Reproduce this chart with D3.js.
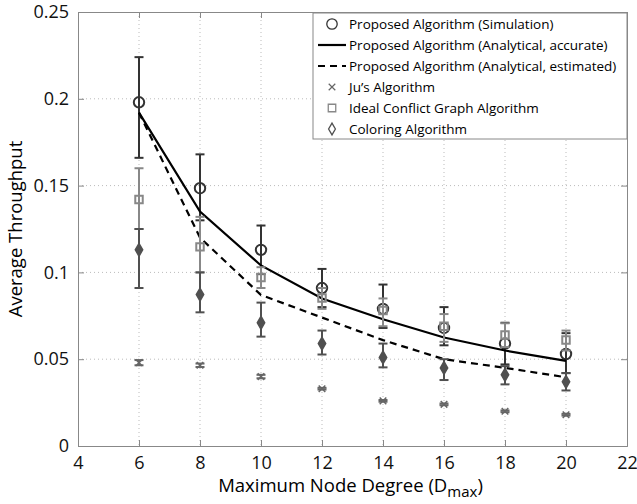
<!DOCTYPE html>
<html>
<head>
<meta charset="utf-8">
<script src="https://cdn.jsdelivr.net/npm/d3@7"></script>
<style>
  body { margin: 0; background: #fff; }
  text { font-family: "Open Sans", "Noto Sans", sans-serif; }
</style>
</head>
<body>
<div class="chart"></div>
<script>
// data
const degrees = [6, 8, 10, 12, 14, 16, 18, 20];

const simMean = [0.198, 0.1485, 0.113, 0.091, 0.079, 0.068, 0.059, 0.053];
const simLo   = [0.166, 0.130, 0.099, 0.080, 0.068, 0.058, 0.047, 0.042];
const simHi   = [0.224, 0.168, 0.127, 0.102, 0.093, 0.080, 0.071, 0.065];

const accurate  = [0.192, 0.135, 0.104, 0.085, 0.073, 0.0625, 0.055, 0.049];
const estimated = [0.192, 0.120, 0.087, 0.074, 0.061, 0.050, 0.045, 0.0396];

const juMean = [0.048, 0.0465, 0.040, 0.033, 0.026, 0.024, 0.020, 0.018];
const juLo   = [0.0465, 0.0455, 0.039, 0.0325, 0.0255, 0.0235, 0.0195, 0.0175];
const juHi   = [0.0495, 0.0475, 0.041, 0.0335, 0.0265, 0.0245, 0.0205, 0.0185];

const idealMean = [0.142, 0.1147, 0.097, 0.0853, 0.078, 0.069, 0.064, 0.061];
const idealLo   = [0.125, 0.100, 0.091, 0.079, 0.069, 0.060, 0.057, 0.055];
const idealHi   = [0.160, 0.132, 0.103, 0.091, 0.085, 0.076, 0.0707, 0.0665];

const colorMean = [0.113, 0.0872, 0.071, 0.059, 0.051, 0.045, 0.041, 0.037];
const colorLo   = [0.091, 0.077, 0.063, 0.0527, 0.0453, 0.038, 0.0355, 0.032];
const colorHi   = [0.125, 0.100, 0.0826, 0.0665, 0.059, 0.050, 0.046, 0.042];

const xTicks = [4, 6, 8, 10, 12, 14, 16, 18, 20, 22];
const yTicks = [0, 0.05, 0.1, 0.15, 0.2, 0.25];

const legendLabels = [
  "Proposed Algorithm (Simulation)",
  "Proposed Algorithm (Analytical, accurate)",
  "Proposed Algorithm (Analytical, estimated)",
  "Ju\u2019s Algorithm",
  "Ideal Conflict Graph Algorithm",
  "Coloring Algorithm"
];

const outerWidth = 637;
const outerHeight = 504;
const margin = {top: 12, left: 78, bottom: 58, right: 10};
const width = outerWidth - margin.left - margin.right;
const height = outerHeight - margin.top - margin.bottom;

const svg = d3.select(".chart")
    .append("svg")
    .attr("width", outerWidth)
    .attr("height", outerHeight)
    .append("g")
    .attr("transform", `translate(${margin.left}, ${margin.top})`);

const xScale = d3.scaleLinear().domain([4, 22]).range([0, width]);
const yScale = d3.scaleLinear().domain([0, 0.25]).range([height, 0]);

// dotted grid
svg.append("g").selectAll("line")
    .data(xTicks.slice(1, -1))
    .join("line")
    .attr("x1", d => xScale(d)).attr("x2", d => xScale(d))
    .attr("y1", 0).attr("y2", height)
    .attr("stroke", "#bbb").attr("stroke-dasharray", "1,3");

svg.append("g").selectAll("line")
    .data(yTicks.slice(1, -1))
    .join("line")
    .attr("y1", d => yScale(d)).attr("y2", d => yScale(d))
    .attr("x1", 0).attr("x2", width)
    .attr("stroke", "#bbb").attr("stroke-dasharray", "1,3");

// axes, ticks pointing inward like matlab
const xAxis = d3.axisBottom(xScale).tickValues(xTicks).tickSize(-6).tickPadding(10);
const yAxis = d3.axisLeft(yScale).tickValues(yTicks).tickSize(-6).tickPadding(9)
    .tickFormat(d => d === 0 ? "0" : String(+d.toFixed(2)));

svg.append("g").attr("transform", `translate(0, ${height})`).call(xAxis);
svg.append("g").call(yAxis);
svg.append("g").call(d3.axisTop(xScale).tickValues(xTicks).tickSize(-6).tickFormat(""));
svg.append("g").attr("transform", `translate(${width}, 0)`)
    .call(d3.axisRight(yScale).tickValues(yTicks).tickSize(-6).tickFormat(""));

svg.selectAll(".domain").attr("stroke", "#888");
svg.selectAll(".tick line").attr("stroke", "#888");
svg.selectAll(".tick text").attr("fill", "#111").style("font-size", "18px");

// axis titles
const xTitle = svg.append("text")
    .attr("x", width / 2 - 2).attr("y", height + 46)
    .attr("text-anchor", "middle")
    .style("font-size", "18.5px");
xTitle.append("tspan").text("Maximum Node Degree (D");
xTitle.append("tspan").attr("dy", 5).style("font-size", "15px").text("max");
xTitle.append("tspan").attr("dy", -5).text(")");

svg.append("text")
    .attr("transform", `translate(-56, ${height / 2}) rotate(-90)`)
    .attr("text-anchor", "middle")
    .style("font-size", "18.5px")
    .text("Average Throughput");

// helpers
function errorBars(mean, lo, hi, color) {
  const g = svg.append("g").attr("stroke", color).attr("stroke-width", 2).attr("fill", "none");
  degrees.forEach((d, i) => {
    const x = xScale(d);
    g.append("line").attr("x1", x).attr("x2", x).attr("y1", yScale(lo[i])).attr("y2", yScale(hi[i]));
    g.append("line").attr("x1", x - 4.5).attr("x2", x + 4.5).attr("y1", yScale(lo[i])).attr("y2", yScale(lo[i]));
    g.append("line").attr("x1", x - 4.5).attr("x2", x + 4.5).attr("y1", yScale(hi[i])).attr("y2", yScale(hi[i]));
  });
  return g;
}

const symbols = {
  circle: d3.symbol().type(d3.symbolCircle).size(85),
  square: d3.symbol().type(d3.symbolSquare).size(56),
  diamond: d3.symbol().type(d3.symbolDiamond).size(40),
  cross: d3.symbol().type(d3.symbolX).size(30)
};

function markers(mean, shape, color) {
  svg.append("g").selectAll("path")
    .data(degrees)
    .join("path")
    .attr("transform", (d, i) => `translate(${xScale(d)}, ${yScale(mean[i])})`)
    .attr("d", symbols[shape])
    .attr("fill", shape === "diamond" ? color : "none")
    .attr("stroke", color)
    .attr("stroke-width", shape === "cross" ? 1.5 : 2);
}

// simulation
errorBars(simMean, simLo, simHi, "#333");
markers(simMean, "circle", "#333");

// analytical curves
const line = d3.line().x((d, i) => xScale(degrees[i])).y(d => yScale(d));
svg.append("path").datum(accurate).attr("d", line)
    .attr("fill", "none").attr("stroke", "#000").attr("stroke-width", 2.2);
svg.append("path").datum(estimated).attr("d", line)
    .attr("fill", "none").attr("stroke", "#000").attr("stroke-width", 2.2)
    .attr("stroke-dasharray", "7,5");

// Ju
errorBars(juMean, juLo, juHi, "#666");
markers(juMean, "cross", "#666");

// ideal conflict graph
errorBars(idealMean, idealLo, idealHi, "#888");
markers(idealMean, "square", "#888");

// coloring
errorBars(colorMean, colorLo, colorHi, "#505050");
markers(colorMean, "diamond", "#505050");

// legend
const lx = xScale(12) - 9, ly = 1, lw = width - (xScale(12) - 9), lh = 126;
const legend = svg.append("g").attr("transform", `translate(${lx}, ${ly})`);
legend.append("rect").attr("width", lw).attr("height", lh)
    .attr("fill", "#fff").attr("stroke", "#888");

const legendStyles = [
  {shape: "circle", color: "#333"},
  {line: "solid"},
  {line: "dashed"},
  {shape: "cross", color: "#666"},
  {shape: "square", color: "#888"},
  {shape: "diamond", color: "#505050"}
];

legendLabels.forEach((lab, i) => {
  const y = 11 + i * 21;
  const s = legendStyles[i];
  if (s.line) {
    legend.append("line").attr("x1", 5).attr("x2", 33).attr("y1", y).attr("y2", y)
      .attr("stroke", "#000").attr("stroke-width", 2.2)
      .attr("stroke-dasharray", s.line === "dashed" ? "7,5" : null);
  } else {
    legend.append("path").attr("transform", `translate(19, ${y})`)
      .attr("d", symbols[s.shape])
      .attr("fill", "none")
      .attr("stroke", s.color).attr("stroke-width", s.shape === "cross" ? 1.2 : 1.3);
  }
  legend.append("text").attr("x", 36).attr("y", y + 5)
    .style("font-size", "13.5px").text(lab);
});
</script>
</body>
</html>
